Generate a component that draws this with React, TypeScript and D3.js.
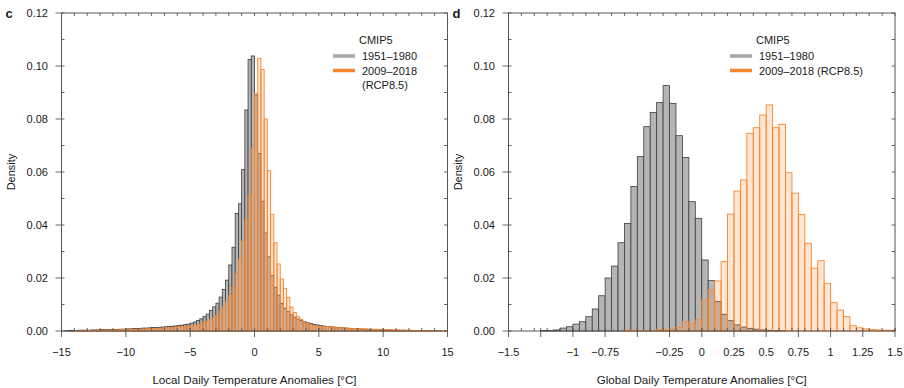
import React from 'react';
import * as d3 from 'd3';

// ---- data: panel c (local anomalies), 0.25 degC bins from -15 to 15
const localBinStart = -15;
const localBinWidth = 0.25;
const localPast = [
  0, 0.0001, 0.0002, 0.0002,
  0.0002, 0.0003, 0.0003, 0.0003,
  0.0003, 0.0004, 0.0004, 0.0004,
  0.0005, 0.0005, 0.0005, 0.0006,
  0.0006, 0.0006, 0.0007, 0.0007,
  0.0008, 0.0008, 0.0009, 0.0009,
  0.001, 0.0011, 0.0011, 0.0012,
  0.0013, 0.0013, 0.0014, 0.0015,
  0.0016, 0.0017, 0.0018, 0.0019,
  0.0021, 0.0022, 0.0024, 0.0026,
  0.003, 0.0034, 0.004, 0.0046,
  0.0055, 0.0064, 0.0077, 0.0091,
  0.0105, 0.0128, 0.0157, 0.0192,
  0.0249, 0.0316, 0.0444, 0.048,
  0.061, 0.0834, 0.1025, 0.1038,
  0.089, 0.067, 0.049, 0.037,
  0.028, 0.021, 0.0165, 0.0135,
  0.0104, 0.0086, 0.0073, 0.0061,
  0.0052, 0.0045, 0.004, 0.0035,
  0.0031, 0.0028, 0.0025, 0.0023,
  0.0021, 0.0019, 0.0017, 0.0016,
  0.0015, 0.0014, 0.0013, 0.0012,
  0.0011, 0.001, 0.0009, 0.0009,
  0.0008, 0.0007, 0.0007, 0.0006,
  0.0006, 0.0005, 0.0005, 0.0005,
  0.0004, 0.0004, 0.0004, 0.0003,
  0.0003, 0.0003, 0.0003, 0.0002,
  0.0002, 0.0002, 0.0002, 0.0002,
  0.0001, 0.0001, 0.0001, 0.0001,
  0.0001, 0.0001, 0, 0,
];
const localRecent = [
  0, 0, 0, 0,
  0.0001, 0.0001, 0.0001, 0.0001,
  0.0002, 0.0002, 0.0002, 0.0003,
  0.0003, 0.0003, 0.0003, 0.0004,
  0.0004, 0.0004, 0.0005, 0.0005,
  0.0005, 0.0006, 0.0006, 0.0006,
  0.0007, 0.0007, 0.0008, 0.0008,
  0.0009, 0.0009, 0.001, 0.0011,
  0.0011, 0.0012, 0.0013, 0.0014,
  0.0015, 0.0016, 0.0017, 0.0018,
  0.0019, 0.0021, 0.0023, 0.0027,
  0.0032, 0.0037, 0.0043, 0.005,
  0.006, 0.0075, 0.0092, 0.011,
  0.0135, 0.0165, 0.0215, 0.027,
  0.034, 0.042, 0.051, 0.069,
  0.0897, 0.1029, 0.0987, 0.08,
  0.0605, 0.044, 0.0333, 0.0253,
  0.0196, 0.0161, 0.0127, 0.009,
  0.007, 0.0055, 0.0044, 0.0035,
  0.0028, 0.0024, 0.0021, 0.0019,
  0.0018, 0.0017, 0.0016, 0.0015,
  0.0014, 0.0013, 0.0012, 0.0012,
  0.0011, 0.001, 0.001, 0.0009,
  0.0009, 0.0008, 0.0008, 0.0007,
  0.0007, 0.0006, 0.0006, 0.0005,
  0.0005, 0.0005, 0.0004, 0.0004,
  0.0004, 0.0003, 0.0003, 0.0003,
  0.0003, 0.0002, 0.0002, 0.0002,
  0.0002, 0.0002, 0.0001, 0.0001,
  0.0001, 0.0001, 0.0001, 0.0001,
];

// ---- data: panel d (global anomalies), 0.05 degC bins from -1.5 to 1.5
const globalBinStart = -1.5;
const globalBinWidth = 0.05;
const globalPast = [
  0, 0, 0, 0, 0, 0.0002, 0.0002, 0.0004, 0.0011, 0.0016,
  0.0026, 0.0035, 0.0054, 0.0083, 0.0133, 0.02, 0.0245, 0.0333, 0.0406, 0.0545,
  0.0658, 0.0771, 0.0825, 0.0862, 0.0926, 0.0859, 0.0737, 0.0655, 0.0488, 0.0425,
  0.0268, 0.019, 0.0111, 0.0063, 0.0039, 0.0023, 0.0015, 0.001, 0.0007, 0.0004,
  0.0003, 0.0002, 0.0001, 0, 0, 0, 0, 0, 0, 0,
  0, 0, 0, 0, 0, 0, 0, 0, 0, 0,
];
const globalRecent = [
  0, 0, 0, 0, 0, 0, 0, 0, 0, 0,
  0, 0, 0, 0, 0, 0, 0, 0, 0.0003, 0.0001,
  0.0001, 0.0001, 0.0002, 0.0006, 0.0004, 0.0008, 0.0014, 0.0035, 0.0026, 0.0042,
  0.0117, 0.0155, 0.0189, 0.0262, 0.0441, 0.0528, 0.057, 0.0746, 0.0767, 0.0815,
  0.0853, 0.0767, 0.078, 0.0597, 0.052, 0.044, 0.0331, 0.0237, 0.0265, 0.018,
  0.0107, 0.0079, 0.0054, 0.002, 0.0012, 0.0008, 0.0005, 0.0004, 0.0003, 0.0003,
];

const yTicks = [0, 0.02, 0.04, 0.06, 0.08, 0.1, 0.12];
const localXTicks = [-15, -10, -5, 0, 5, 10, 15];
const globalXTicks = [-1.5, -1.25, -1, -0.75, -0.5, -0.25, 0, 0.25, 0.5, 0.75, 1, 1.25, 1.5];
const globalXLabels = ['-1.5', '', '-1', '-0.75', '', '-0.25', '0', '0.25', '0.5', '0.75', '1', '1.25', '1.5'];
const seriesNames = ['1951–1980', '2009–2018'];

const FONT = '"Liberation Sans", Arial, Helvetica, sans-serif';
const GREY_FILL = '#b5b5b5';
const GREY_STROKE = '#3d3d3d';
const ORANGE = '#f7862f';
const ORANGE_FILL = 'rgba(255,140,60,0.22)';
const AXIS = '#555';
const FS = 11;

type PanelProps = {
  tag: string;
  left: number;
  right: number;
  domain: [number, number];
  binStart: number;
  binWidth: number;
  past: number[];
  recent: number[];
  xTicks: number[];
  xLabels: string[];
  minorStep: number;
  minorStart: number;
  xTitle: string;
  legendX: number;
  wideLegend: boolean;
};

const top = 13;
const bottom = 331;

function Panel(p: PanelProps) {
  const x = d3.scaleLinear().domain(p.domain).range([p.left, p.right]);
  const y = d3.scaleLinear().domain([0, 0.12]).range([bottom, top]);
  const minors = d3.range(p.minorStart, p.domain[1] + 1e-9, p.minorStep);
  const yMinor = d3.range(0, 0.1201, 0.01);

  const bars = (vals: number[], fill: string, stroke: string, sw: number) =>
    vals.map((v, i) => {
      if (v <= 0) return null;
      const x0 = x(p.binStart + i * p.binWidth);
      const x1 = x(p.binStart + (i + 1) * p.binWidth);
      return (
        <rect key={i} x={x0} y={y(v)} width={x1 - x0} height={bottom - y(v)}
          fill={fill} stroke={stroke} strokeWidth={sw} />
      );
    });

  const lx = p.legendX;
  return (
    <g fontFamily={FONT} fill="#1a1a1a">
      <text x={p.left - 56} y={top + 4.5} fontSize={13} fontWeight="bold">{p.tag}</text>

      <g>{bars(p.past, GREY_FILL, GREY_STROKE, 0.8)}</g>
      <g>{bars(p.recent, ORANGE_FILL, ORANGE, 0.9)}</g>

      <rect x={p.left} y={top} width={p.right - p.left} height={bottom - top}
        fill="none" stroke={AXIS} strokeWidth={1} />

      {/* y ticks */}
      {yMinor.map((t, i) => (
        <g key={i} stroke={AXIS} strokeWidth={0.9}>
          <line x1={p.left} x2={p.left + 3} y1={y(t)} y2={y(t)} />
          <line x1={p.right} x2={p.right - 3.5} y1={y(t)} y2={y(t)} />
        </g>
      ))}
      {yTicks.map((t) => (
        <g key={t}>
          <line x1={p.left - 6} x2={p.left} y1={y(t)} y2={y(t)} stroke={AXIS} strokeWidth={0.9} />
          <text x={p.left - 13.5} y={y(t)} dy="0.35em" textAnchor="end" fontSize={FS}>{t.toFixed(2)}</text>
        </g>
      ))}

      {/* x ticks */}
      {minors.map((t, i) => (
        <g key={i} stroke={AXIS} strokeWidth={0.9}>
          <line x1={x(t)} x2={x(t)} y1={bottom} y2={bottom - 3} />
          <line x1={x(t)} x2={x(t)} y1={top} y2={top + 3} />
        </g>
      ))}
      {p.xTicks.map((t, i) => (
        <g key={t}>
          <line x1={x(t)} x2={x(t)} y1={bottom - 3} y2={bottom + 6} stroke={AXIS} strokeWidth={0.9} />
          <text x={x(t)} y={bottom + 25} textAnchor="middle" fontSize={FS}>
            {p.xLabels[i].replace('-', '\u2212')}
          </text>
        </g>
      ))}

      <text x={(p.left + p.right) / 2} y={384} textAnchor="middle" fontSize={11.6}>{p.xTitle}</text>
      <text transform={`translate(${p.left - 47},${(top + bottom) / 2}) rotate(-90)`}
        textAnchor="middle" fontSize={FS}>Density</text>

      {/* legend */}
      <text x={lx + 26} y={44} fontSize={FS}>CMIP5</text>
      <line x1={lx} x2={lx + 22} y1={56} y2={56} stroke="#a6a6a6" strokeWidth={3.5} />
      <text x={lx + 29} y={60} fontSize={FS}>{seriesNames[0]}</text>
      <line x1={lx} x2={lx + 22} y1={70.5} y2={70.5} stroke={ORANGE} strokeWidth={3.5} />
      {p.wideLegend ? (
        <text x={lx + 29} y={75} fontSize={FS}>{seriesNames[1]} (RCP8.5)</text>
      ) : (
        <>
          <text x={lx + 29} y={75} fontSize={FS}>{seriesNames[1]}</text>
          <text x={lx + 29} y={89} fontSize={FS}>(RCP8.5)</text>
        </>
      )}
    </g>
  );
}

export default function App() {
  return (
    <svg width={904} height={388} viewBox="0 0 904 388"
      style={{ position: 'absolute', left: 0, top: 0, background: '#fff' }}>
      <rect width={904} height={388} fill="#fff" />
      <Panel tag="c" left={61.5} right={447.5} domain={[-15, 15]}
        binStart={localBinStart} binWidth={localBinWidth}
        past={localPast} recent={localRecent}
        xTicks={localXTicks} xLabels={localXTicks.map(String)}
        minorStep={1} minorStart={-15}
        xTitle="Local Daily Temperature Anomalies [°C]" legendX={333} wideLegend={false} />
      <Panel tag="d" left={508.5} right={895} domain={[-1.5, 1.5]}
        binStart={globalBinStart} binWidth={globalBinWidth}
        past={globalPast} recent={globalRecent}
        xTicks={globalXTicks} xLabels={globalXLabels}
        minorStep={0.1} minorStart={-1.5}
        xTitle="Global Daily Temperature Anomalies [°C]" legendX={730} wideLegend={true} />
    </svg>
  );
}
